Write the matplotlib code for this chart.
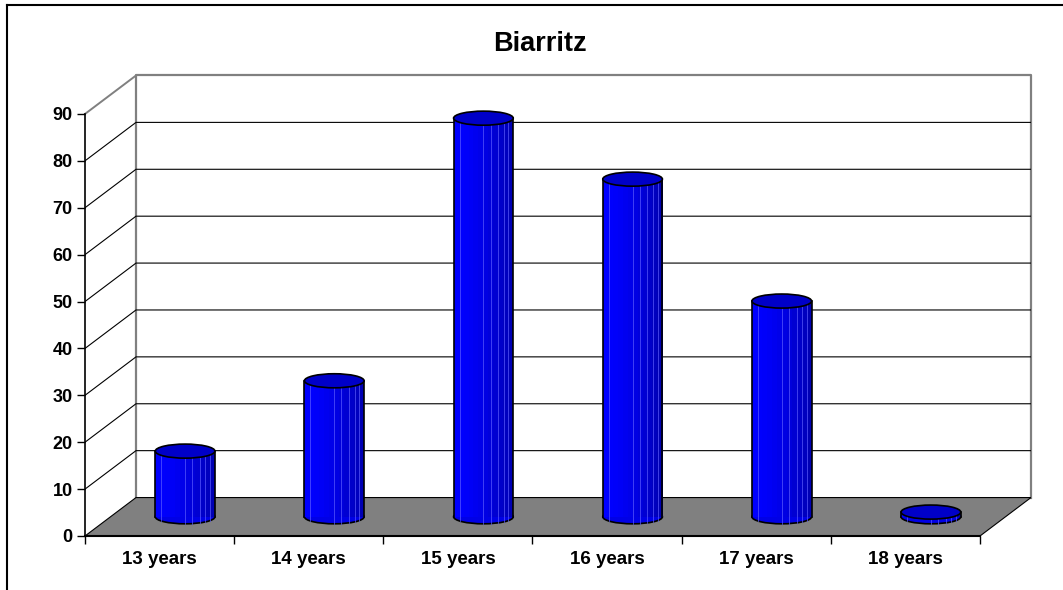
import numpy as np
import matplotlib.pyplot as plt
from matplotlib.patches import Rectangle, Ellipse, Polygon
from matplotlib.lines import Line2D
from matplotlib.colors import to_rgb

# chart data
categories = ['13 years', '14 years', '15 years', '16 years', '17 years', '18 years']
values = [14, 29, 85, 72, 46, 1]
y_ticks = [0, 10, 20, 30, 40, 50, 60, 70, 80, 90]
title = 'Biarritz'

plt.rcParams['font.family'] = ['Liberation Sans', 'DejaVu Sans']

W, H = 1063, 590
fig = plt.figure(figsize=(W / 100, H / 100), dpi=100)
ax = fig.add_axes([85 / W, 54 / H, 946 / W, 460.5 / H])

n = len(categories)
ymax = y_ticks[-1]
dx, dy = 0.342, 8.2   # oblique depth offset of the back wall (data units)
x0, x1 = -0.5, n - 0.5
ax.set_xlim(x0, x1 + dx)
ax.set_ylim(0, ymax + dy)

grey = '#808080'

# walls
ax.add_patch(Rectangle((x0 + dx, dy), x1 - x0, ymax, facecolor='white',
                       edgecolor='none', zorder=0))
ax.plot([x0 + dx, x0 + dx, x1 + dx, x1 + dx], [dy, ymax + dy, ymax + dy, dy],
        color=grey, lw=1.6, zorder=1, clip_on=False)
ax.plot([x0, x0 + dx], [ymax, ymax + dy], color=grey, lw=1.4, zorder=1, clip_on=False)
for v in y_ticks[1:-1]:
    ax.plot([x0, x0 + dx, x1 + dx], [v, v + dy, v + dy], color='black', lw=0.8, zorder=1)

# floor
ax.add_patch(Polygon([(x0, 0), (x1, 0), (x1 + dx, dy), (x0 + dx, dy)], closed=True,
                     facecolor=grey, edgecolor='black', lw=0.8, zorder=2))

# cylinders
w = 0.40
eh = 3.0
light = np.array(to_rgb('#0000ff'))
dark = np.array(to_rgb('#0000b4'))
nstrip = 12
for i, v in enumerate(values):
    c = i + dx / 2
    base = dy / 2
    top = v + dy / 2
    left = c - w / 2
    ax.add_patch(Ellipse((c, base), w, eh, facecolor='#0000e6', edgecolor='black',
                         lw=1.2, zorder=3))
    sw = w / nstrip
    for k in range(nstrip):
        t = k / (nstrip - 1)
        col = light * (1 - t ** 1.6) + dark * t ** 1.6
        ax.add_patch(Rectangle((left + k * sw, base), sw * 1.02, top - base,
                               facecolor=col, edgecolor='none', zorder=4))
    for f in [0.1, 0.5, 0.62, 0.75, 0.84, 0.92]:
        ax.plot([left + f * w] * 2, [base - eh / 2 * np.sqrt(1 - (2 * f - 1) ** 2), top],
                color='#5c5cff', lw=0.6, alpha=0.8, zorder=5)
    ax.plot([left, left], [base, top], color='black', lw=1.2, zorder=6)
    ax.plot([left + w, left + w], [base, top], color='black', lw=1.2, zorder=6)
    ax.add_patch(Ellipse((c, top), w, eh, facecolor='#0000c8', edgecolor='black',
                         lw=1.2, zorder=7))

# axes
for s in ['top', 'right']:
    ax.spines[s].set_visible(False)
ax.spines['left'].set_bounds(0, ymax)
ax.spines['bottom'].set_bounds(x0, x1)
ax.spines['left'].set_linewidth(1.2)
ax.spines['bottom'].set_linewidth(1.5)
ax.spines['bottom'].set_zorder(8)

ax.set_yticks(y_ticks)
ax.set_yticklabels([str(t) for t in y_ticks], fontsize=13, fontweight='bold')
ax.tick_params(axis='y', length=6, width=1, pad=3)

ax.set_xticks(np.arange(x0, x1 + 0.01, 1.0))
ax.set_xticklabels([])
ax.set_xticks(range(n), minor=True)
ax.set_xticklabels(categories, minor=True, fontsize=13.5, fontweight='bold')
ax.tick_params(axis='x', which='major', length=6, width=1)
ax.tick_params(axis='x', which='minor', length=0, pad=11)

fig.text(540 / W, 1 - 44 / H, title, ha='center', va='center', fontsize=19.5,
         fontweight='bold')

# chart frame
fig.add_artist(Line2D([7 / W, 1], [1 - 5 / H, 1 - 5 / H], color='black', lw=1.5))
fig.add_artist(Line2D([7 / W, 7 / W], [0, 1 - 5 / H], color='black', lw=1.5))

fig.savefig('out.png', dpi=100)
